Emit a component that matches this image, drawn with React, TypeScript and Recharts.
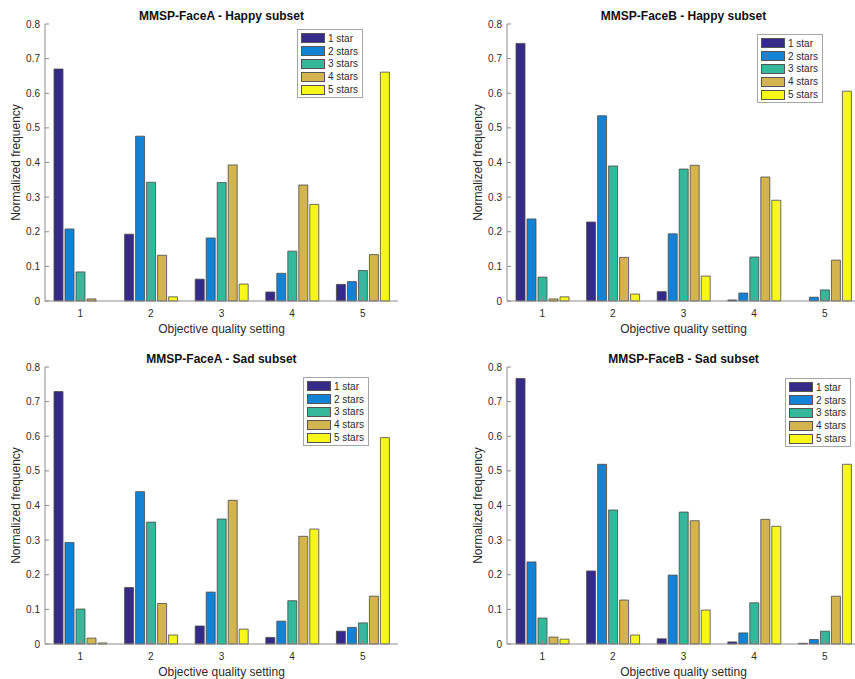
import React from "react";
import { BarChart, Bar, XAxis, YAxis, Legend } from "recharts";

const qualitySettings = ["1", "2", "3", "4", "5"];
const starLabels = ["1 star", "2 stars", "3 stars", "4 stars", "5 stars"];
const starColors = ["#352A87", "#1283D4", "#35B79C", "#D4B44E", "#F7F71A"];
const yTicks = [0, 0.1, 0.2, 0.3, 0.4, 0.5, 0.6, 0.7, 0.8];

// rows = quality setting 1..5, columns = 1..5 stars
const faceAHappy = [
  [0.67, 0.208, 0.084, 0.006, 0],
  [0.193, 0.476, 0.343, 0.132, 0.012],
  [0.063, 0.182, 0.342, 0.393, 0.049],
  [0.026, 0.08, 0.144, 0.335, 0.279],
  [0.048, 0.056, 0.088, 0.134, 0.661],
];
const faceBHappy = [
  [0.744, 0.237, 0.069, 0.006, 0.012],
  [0.228, 0.535, 0.39, 0.126, 0.02],
  [0.027, 0.194, 0.381, 0.392, 0.072],
  [0.003, 0.023, 0.127, 0.358, 0.291],
  [0, 0.011, 0.032, 0.118, 0.606],
];
const faceASad = [
  [0.729, 0.293, 0.101, 0.017, 0.003],
  [0.163, 0.44, 0.352, 0.117, 0.026],
  [0.052, 0.15, 0.361, 0.415, 0.043],
  [0.019, 0.066, 0.125, 0.311, 0.332],
  [0.037, 0.048, 0.061, 0.138, 0.596],
];
const faceBSad = [
  [0.767, 0.237, 0.075, 0.02, 0.014],
  [0.211, 0.519, 0.387, 0.127, 0.026],
  [0.015, 0.199, 0.381, 0.356, 0.098],
  [0.006, 0.032, 0.119, 0.36, 0.34],
  [0.002, 0.013, 0.037, 0.138, 0.519],
];

const font = "'Liberation Sans', Arial, Helvetica, sans-serif";
const boxColor = "#8c8c8c";
const textColor = "#2b2b2b";

const LegendBox = ({ payload }: any) => (
  <div
    style={{
      background: "#fff",
      border: "1px solid #a6a6a6",
      padding: "2px 4px 1px 3px",
      fontFamily: font,
      fontSize: 10,
      color: textColor,
    }}
  >
    {(payload || []).map((p: any) => (
      <div key={p.value} style={{ display: "flex", alignItems: "center", height: 12.8 }}>
        <span
          style={{
            display: "inline-block",
            width: 22,
            height: 8,
            background: p.color,
            border: "1px solid #555",
            marginRight: 3,
          }}
        />
        <span>{p.value}</span>
      </div>
    ))}
  </div>
);

type PanelProps = {
  title: string;
  rows: number[][];
  left: number;
  top: number;
  legendLeft: number;
  legendTop: number;
};

const Panel = ({ title, rows, left, top, legendLeft, legendTop }: PanelProps) => {
  const data = qualitySettings.map((q, i) => {
    const row: any = { q };
    starLabels.forEach((_, j) => (row["s" + j] = rows[i][j]));
    return row;
  });
  return (
    <div style={{ position: "absolute", left, top, width: 430, height: 340 }}>
      <div
        style={{
          position: "absolute",
          left: 45,
          width: 353,
          top: 9,
          textAlign: "center",
          fontFamily: font,
          fontWeight: "bold",
          fontSize: 12,
          color: "#111",
          zIndex: 2,
        }}
      >
        {title}
      </div>
      <BarChart
        width={430}
        height={340}
        data={data}
        margin={{ top: 24, right: 32, bottom: 0, left: 5 }}
        barSize={9}
        barGap={2}
      >
        <XAxis
          dataKey="q"
          height={39}
          stroke={boxColor}
          tickSize={-4}
          tickMargin={13}
          tick={{ fill: textColor, fontSize: 10, fontFamily: font }}
          label={{
            value: "Objective quality setting",
            position: "insideBottom",
            offset: 7,
            style: { fill: textColor, fontSize: 12, fontFamily: font },
          }}
        />
        <XAxis
          xAxisId="top"
          dataKey="q"
          orientation="top"
          height={0}
          stroke={boxColor}
          tickSize={-4}
          tick={false}
        />
        <YAxis
          width={40}
          domain={[0, 0.8]}
          ticks={yTicks}
          stroke={boxColor}
          tickSize={-4}
          tickMargin={9}
          tickFormatter={(v: number) => String(Math.round(v * 10) / 10)}
          tick={{ fill: textColor, fontSize: 10, fontFamily: font }}
          label={{
            value: "Normalized frequency",
            angle: -90,
            position: "insideLeft",
            offset: 11,
            style: { fill: textColor, fontSize: 12, fontFamily: font, textAnchor: "middle" },
          }}
        />
        <YAxis
          yAxisId="right"
          orientation="right"
          width={0}
          domain={[0, 0.8]}
          ticks={yTicks}
          stroke={boxColor}
          tickSize={-4}
          tick={false}
        />
        <Legend
          layout="vertical"
          align="center"
          verticalAlign="middle"
          content={<LegendBox />}
          wrapperStyle={{ left: legendLeft, top: legendTop, width: "auto", height: "auto" }}
        />
        {starLabels.map((name, j) => (
          <Bar
            key={name}
            dataKey={"s" + j}
            name={name}
            fill={starColors[j]}
            stroke="#4a4a4a"
            strokeWidth={0.8}
            isAnimationActive={false}
          />
        ))}
      </BarChart>
    </div>
  );
}

export default function App() {
  return (
    <div
      style={{
        position: "absolute",
        left: 0,
        top: 0,
        width: 855,
        height: 679,
        overflow: "hidden",
        background: "#fff",
      }}
    >
      <Panel title="MMSP-FaceA - Happy subset" rows={faceAHappy} left={0} top={0} legendLeft={297} legendTop={29} />
      <Panel title="MMSP-FaceB - Happy subset" rows={faceBHappy} left={462} top={0} legendLeft={295} legendTop={34} />
      <Panel title="MMSP-FaceA - Sad subset" rows={faceASad} left={0} top={343} legendLeft={303} legendTop={34} />
      <Panel title="MMSP-FaceB - Sad subset" rows={faceBSad} left={462} top={343} legendLeft={323} legendTop={35} />
    </div>
  );
}
